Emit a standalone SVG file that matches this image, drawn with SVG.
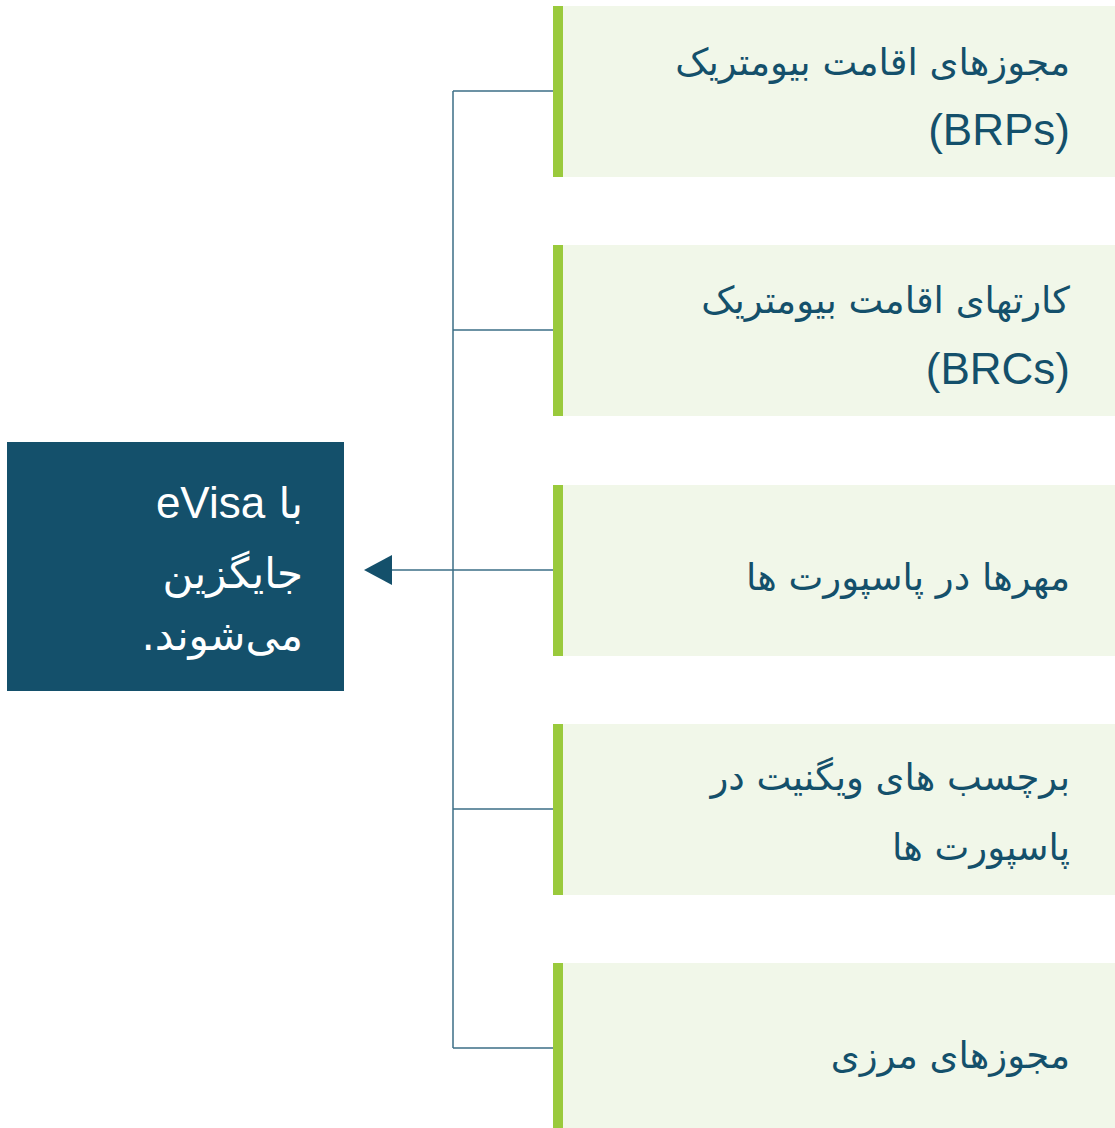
<svg xmlns="http://www.w3.org/2000/svg" width="1115" height="1128" viewBox="0 0 1115 1128">
<style>
.item{fill:#f1f7e9}
.bar{fill:#9aca3c}
.t{font-family:"DejaVu Sans","Liberation Sans",sans-serif;font-size:37px;fill:#14506b}
.w{font-family:"DejaVu Sans","Liberation Sans",sans-serif;font-size:42px;fill:#ffffff}
.lat{font-family:"Liberation Sans",Arial,sans-serif;font-size:44px}
.c{stroke:#3b6e86;stroke-width:1.5;fill:none}
</style>
<rect width="1115" height="1128" fill="#ffffff"/>
<g id="connectors">
<path class="c" d="M453,91 V1048"/>
<path class="c" d="M453,91 H553"/>
<path class="c" d="M453,330 H553"/>
<path class="c" d="M453,809 H553"/>
<path class="c" d="M453,1048 H553"/>
<path class="c" d="M553,570 H392"/>
<path d="M392,555 L364,570 L392,585 Z" fill="#14506b"/>
</g>
<g id="result">
<rect x="7" y="442" width="337" height="249" fill="#14506b"/>
<text class="w" x="303" y="518" direction="rtl" unicode-bidi="embed" text-anchor="start">با <tspan class="lat">eVisa</tspan></text>
<text class="w" x="303" y="588" direction="rtl" unicode-bidi="embed" text-anchor="start">جایگزین</text>
<text class="w" x="303" y="650" direction="rtl" unicode-bidi="embed" text-anchor="start">می‌شوند.</text>
</g>
<g id="n1">
<rect class="item" x="553" y="6" width="562" height="171"/>
<rect class="bar" x="553" y="6" width="10" height="171"/>
<text class="t" x="1070" y="75" direction="rtl" unicode-bidi="embed" text-anchor="start">مجوزهای اقامت بیومتریک</text>
<text class="t lat" x="1070" y="145" text-anchor="end">(BRPs)</text>
</g>
<g id="n2">
<rect class="item" x="553" y="245" width="562" height="171"/>
<rect class="bar" x="553" y="245" width="10" height="171"/>
<text class="t" x="1070" y="313" direction="rtl" unicode-bidi="embed" text-anchor="start">کارتهای اقامت بیومتریک</text>
<text class="t lat" x="1070" y="384" text-anchor="end">(BRCs)</text>
</g>
<g id="n3">
<rect class="item" x="553" y="485" width="562" height="171"/>
<rect class="bar" x="553" y="485" width="10" height="171"/>
<text class="t" x="1070" y="590" direction="rtl" unicode-bidi="embed" text-anchor="start">مهرها در پاسپورت ها</text>
</g>
<g id="n4">
<rect class="item" x="553" y="724" width="562" height="171"/>
<rect class="bar" x="553" y="724" width="10" height="171"/>
<text class="t" x="1070" y="790" direction="rtl" unicode-bidi="embed" text-anchor="start">برچسب های ویگنیت در</text>
<text class="t" x="1070" y="860" direction="rtl" unicode-bidi="embed" text-anchor="start">پاسپورت ها</text>
</g>
<g id="n5">
<rect class="item" x="553" y="963" width="562" height="171"/>
<rect class="bar" x="553" y="963" width="10" height="171"/>
<text class="t" x="1070" y="1068" direction="rtl" unicode-bidi="embed" text-anchor="start">مجوزهای مرزی</text>
</g>
</svg>
